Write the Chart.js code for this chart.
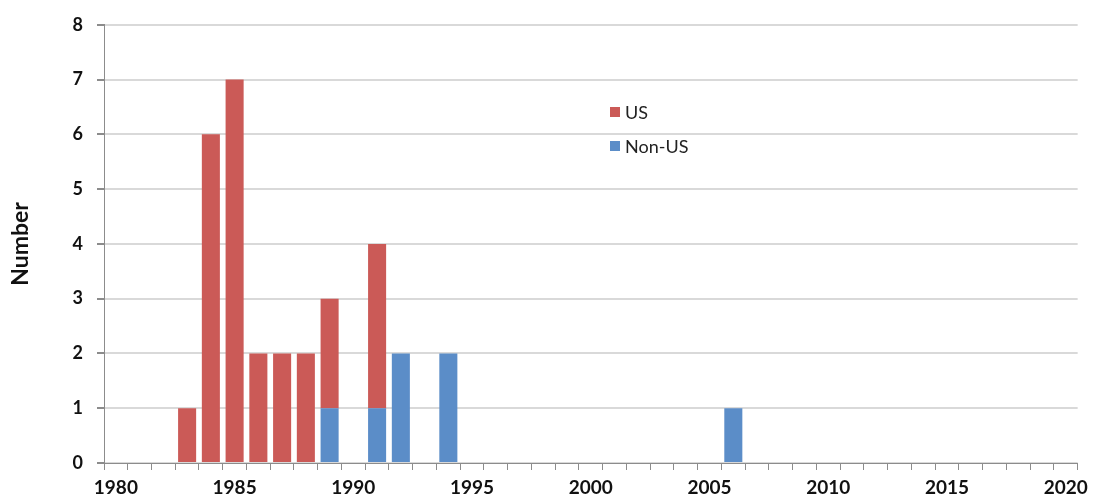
<!DOCTYPE html>
<html>
<head>
<meta charset="utf-8">
<script src="https://cdn.jsdelivr.net/npm/chart.js@4"></script>
<style>
html,body{margin:0;padding:0;background:#fff;}
#wrap{width:1094px;height:500px;}
</style>
</head>
<body>
<div id="wrap"><canvas id="c" width="1094" height="500"></canvas></div>
<script>
const years = ['1980','1981','1982','1983','1984','1985','1986','1987','1988','1989',
  '1990','1991','1992','1993','1994','1995','1996','1997','1998','1999',
  '2000','2001','2002','2003','2004','2005','2006','2007','2008','2009',
  '2010','2011','2012','2013','2014','2015','2016','2017','2018','2019','2020'];
const usValues = [0,0,0,1,6,7,2,2,2,2, 0,3,0,0,0,0,0,0,0,0, 0,0,0,0,0,0,0,0,0,0, 0,0,0,0,0,0,0,0,0,0, 0];
const nonUsValues = [0,0,0,0,0,0,0,0,0,1, 0,1,2,0,2,0,0,0,0,0, 0,0,0,0,0,0,1,0,0,0, 0,0,0,0,0,0,0,0,0,0, 0];
const shownYearLabels = ['1980','1985','1990','1995','2000','2005','2010','2015','2020'];
const yTicks = [0,1,2,3,4,5,6,7,8];

const RED = '#CB5A57';
const BLUE = '#5B8DC8';

const legendInside = {
  id: 'legendInside',
  afterDraw(chart) {
    const ctx = chart.ctx;
    const order = [1, 0];
    ctx.save();
    ctx.font = '18px Lato';
    ctx.textBaseline = 'middle';
    order.forEach((di, i) => {
      const ds = chart.data.datasets[di];
      const y = 112 + i * 34;
      ctx.fillStyle = ds.backgroundColor;
      ctx.fillRect(610, y - 5, 10, 10);
      ctx.fillStyle = '#222';
      ctx.fillText(ds.label, 625, y + 1);
    });
    ctx.restore();
  }
};

new Chart(document.getElementById('c'), {
  type: 'bar',
  data: {
    labels: years,
    datasets: [
      { label: 'Non-US', data: nonUsValues, backgroundColor: BLUE, stack: 's', barPercentage: 0.76, categoryPercentage: 1.0 },
      { label: 'US', data: usValues, backgroundColor: RED, stack: 's', barPercentage: 0.76, categoryPercentage: 1.0 }
    ]
  },
  options: {
    responsive: false,
    animation: false,
    devicePixelRatio: 1,
    layout: { padding: { top: 22, right: 14, left: 0, bottom: 0 } },
    plugins: { legend: { display: false }, tooltip: { enabled: false } },
    scales: {
      x: {
        stacked: true,
        offset: true,
        grid: { offset: true, drawOnChartArea: false, drawTicks: true, tickLength: 7, tickColor: '#8C8C8C', lineWidth: 1 },
        border: { color: '#8C8C8C', width: 1 },
        ticks: {
          autoSkip: false, maxRotation: 0, minRotation: 0, padding: 6,
          color: '#111', font: { family: 'Lato', size: 19, weight: 'bold' },
          callback: function(v, i) { const l = this.getLabelForValue(v); return shownYearLabels.includes(l) ? l : ''; }
        },
        afterFit(s) { s.height = 37; }
      },
      y: {
        stacked: true,
        min: 0, max: 8,
        afterBuildTicks(s) { s.ticks = yTicks.map(v => ({ value: v })); },
        grid: { color: '#D9D9D9', lineWidth: 2, tickLength: 7, tickColor: '#8C8C8C' },
        border: { color: '#8C8C8C', width: 1 },
        ticks: { padding: 14, color: '#111', font: { family: 'Lato', size: 18, weight: 'bold' } },
        title: { display: true, text: 'Number', color: '#111', font: { family: 'Lato', size: 23, weight: 'bold' }, padding: { top: 7, bottom: 0 } },
        afterFit(s) { s.width = 104; }
      }
    }
  },
  plugins: [legendInside]
});
</script>
</body>
</html>
